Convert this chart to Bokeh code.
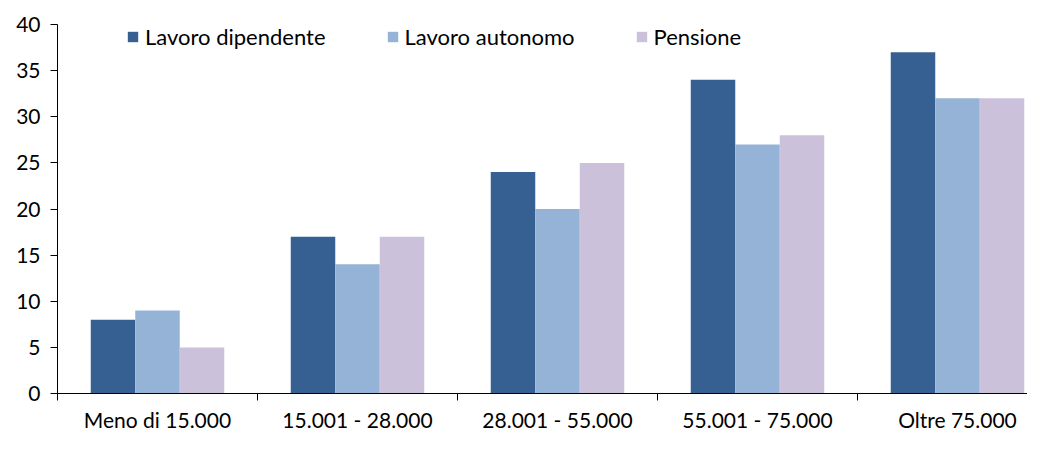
from bokeh.plotting import figure
from bokeh.models import ColumnDataSource, FixedTicker, Range1d, Legend, LegendItem
from bokeh.embed import file_html
from bokeh.resources import INLINE

categories = ["Meno di 15.000", "15.001 - 28.000", "28.001 - 55.000", "55.001 - 75.000", "Oltre 75.000"]
series_names = ["Lavoro dipendente", "Lavoro autonomo", "Pensione"]
lavoro_dipendente = [8, 17, 24, 34, 37]
lavoro_autonomo = [9, 14, 20, 27, 32]
pensione = [5, 17, 25, 28, 32]
y_ticks = [0, 5, 10, 15, 20, 25, 30, 35, 40]

colors = ["#376092", "#95B3D7", "#CCC1DA"]
FONT = "Lato"

p = figure(width=1027, height=434, output_backend="svg", toolbar_location=None,
           x_range=Range1d(0, 4.85), y_range=Range1d(0, 40),
           min_border_left=57, min_border_right=0, min_border_top=24, min_border_bottom=30)
p.outline_line_color = None
p.xgrid.grid_line_color = None
p.ygrid.grid_line_color = None
p.background_fill_color = "white"

bar_w = 0.2225
offsets = [-bar_w, 0.0, bar_w]
all_series = [lavoro_dipendente, lavoro_autonomo, pensione]
centers = [i + 0.5 for i in range(len(categories))]
renderers = []
for vals, off, col in zip(all_series, offsets, colors):
    src = ColumnDataSource(dict(x=[c + off for c in centers], top=vals))
    r = p.vbar(x="x", top="top", bottom=0, width=bar_w, source=src,
               fill_color=col, line_color=None)
    renderers.append(r)

# x axis: labels at centers, tick marks at boundaries
xa = p.xaxis[0]
xa.ticker = FixedTicker(ticks=centers, minor_ticks=list(range(len(categories) + 1)))
xa.major_label_overrides = {c: lab for c, lab in zip(centers, categories)}
xa.major_tick_in = 0
xa.major_tick_out = 0
xa.minor_tick_in = 0
xa.minor_tick_out = 7
xa.minor_tick_line_color = "#000000"
xa.axis_line_color = "#000000"
xa.major_label_text_font = FONT
xa.major_label_text_font_size = "21px"
xa.major_label_text_color = "#000000"
xa.major_label_standoff = 6

ya = p.yaxis[0]
ya.ticker = FixedTicker(ticks=y_ticks)
ya.minor_tick_line_color = None
ya.major_tick_in = 0
ya.major_tick_out = 7
ya.major_tick_line_color = "#000000"
ya.axis_line_color = "#000000"
ya.major_label_text_font = FONT
ya.major_label_text_font_size = "21px"
ya.major_label_text_color = "#000000"
ya.major_label_standoff = 10

legend = Legend(items=[LegendItem(label=n, renderers=[r]) for n, r in zip(series_names, renderers)],
                orientation="horizontal", location=(69, 343),
                glyph_width=13, glyph_height=13, label_height=26, label_standoff=6, spacing=60,
                padding=0, margin=0, border_line_color=None, background_fill_alpha=0,
                label_text_font=FONT, label_text_font_size="22px", label_text_color="#000000")
p.add_layout(legend)

open("out.html", "w").write(file_html(p, INLINE))
